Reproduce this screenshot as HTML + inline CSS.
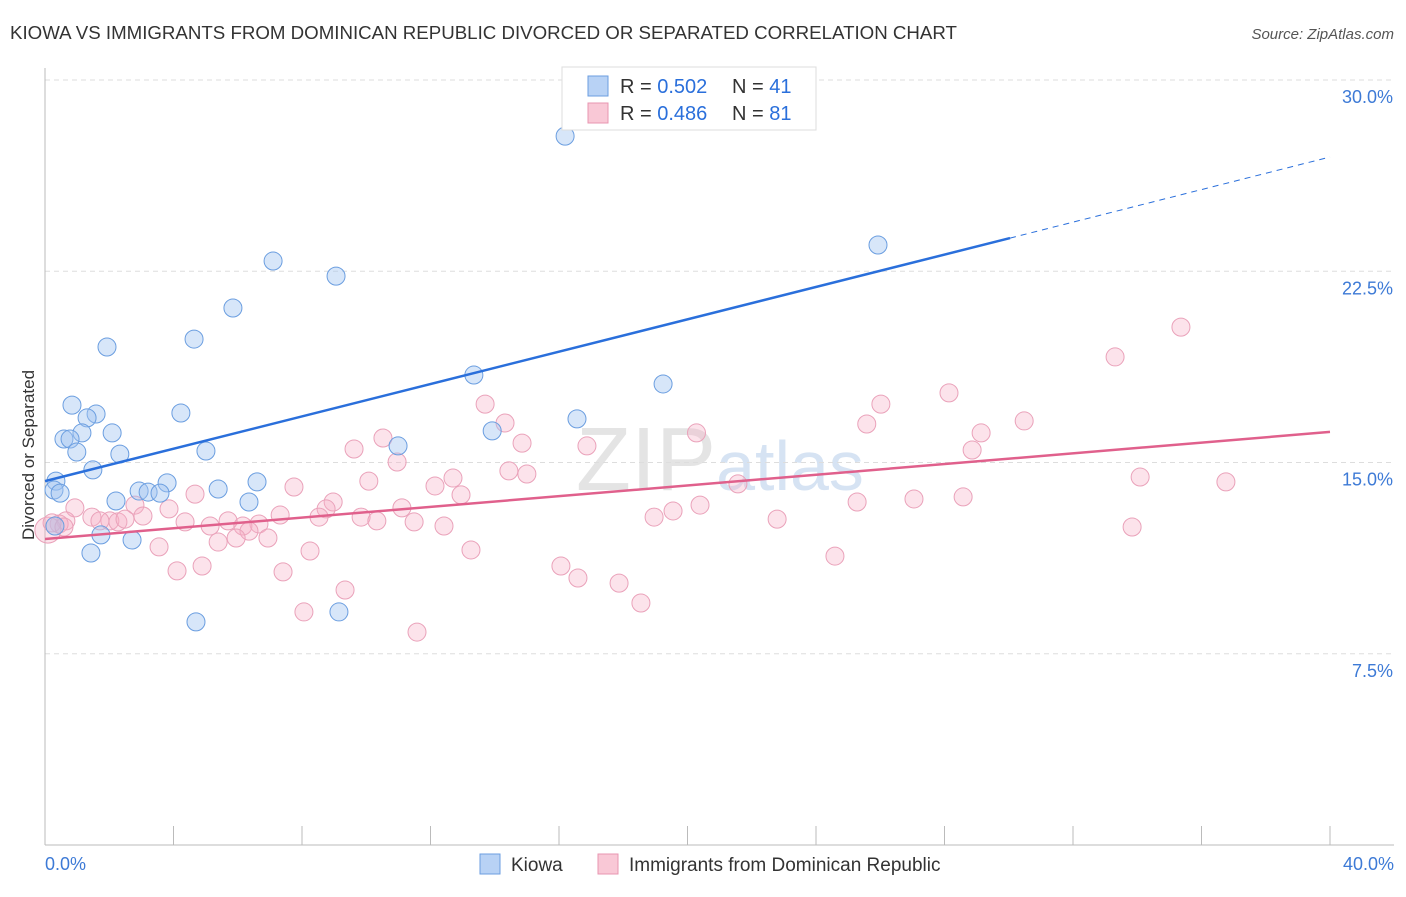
<!DOCTYPE html>
<html><head><meta charset="utf-8"><style>
body{margin:0;background:#fff;font-family:"Liberation Sans",sans-serif}
svg text{font-family:"Liberation Sans",sans-serif}
</style></head><body>
<svg id="c" width="1406" height="892" viewBox="0 0 1406 892">
<text x="10" y="39" font-size="18.7" fill="#333">KIOWA VS IMMIGRANTS FROM DOMINICAN REPUBLIC DIVORCED OR SEPARATED CORRELATION CHART</text>
<text x="1394" y="39" font-size="15" fill="#555" font-style="italic" text-anchor="end">Source: ZipAtlas.com</text>
<text x="720" y="490" font-size="90" fill="#e4e4e4" text-anchor="middle" font-family="Liberation Serif">ZIP<tspan fill="#d6e3f3" font-family="Liberation Sans" font-size="70">atlas</tspan></text>
<g id="grid"></g><g id="axes"></g><g id="pts"></g><g id="lines"></g>
<text transform="translate(34,455) rotate(-90)" font-size="17" fill="#333" text-anchor="middle">Divorced or Separated</text>
<g>
<rect x="562" y="67" width="254" height="63" fill="#fff" stroke="#ddd"/>
<rect x="588" y="76" width="20" height="20" fill="#b8d2f5" stroke="#6b9ee0"/>
<rect x="588" y="103" width="20" height="20" fill="#f9c8d6" stroke="#e896b0"/>
<text x="620" y="93" font-size="20" fill="#333">R = <tspan fill="#2a6fdb">0.502</tspan></text>
<text x="732" y="93" font-size="20" fill="#333">N = <tspan fill="#2a6fdb">41</tspan></text>
<text x="620" y="120" font-size="20" fill="#333">R = <tspan fill="#2a6fdb">0.486</tspan></text>
<text x="732" y="120" font-size="20" fill="#333">N = <tspan fill="#2a6fdb">81</tspan></text>
</g>
<g>
<rect x="480" y="854" width="20" height="20" fill="#b8d2f5" stroke="#6b9ee0"/>
<text x="511" y="871" font-size="19" fill="#333">Kiowa</text>
<rect x="598" y="854" width="20" height="20" fill="#f9c8d6" stroke="#e896b0"/>
<text x="629" y="871" font-size="19" fill="#333">Immigrants from Dominican Republic</text>
</g>
</svg>
<script>
const yTicks=[7.5,15,22.5,30];
const yTickLabels=["7.5%","15.0%","22.5%","30.0%"];
const xTicks=[0,4,8,12,16,20,24,28,32,36,40];
const blueX=[16.19,25.93,7.10,9.06,5.85,1.93,4.64,13.35,19.24,0.84,1.59,1.31,4.23,16.56,2.09,1.15,0.59,0.78,13.92,10.99,5.01,0.99,2.33,1.49,0.34,3.80,6.60,0.28,0.47,2.93,3.21,3.58,5.39,2.21,6.35,0.31,1.74,2.71,1.43,4.70,9.15];
const blueY=[27.8,23.53,22.90,22.31,21.06,19.53,19.84,18.43,18.08,17.25,16.90,16.75,16.94,16.71,16.16,16.16,15.92,15.92,16.24,15.65,15.45,15.41,15.33,14.71,14.27,14.20,14.24,13.92,13.80,13.88,13.84,13.80,13.96,13.49,13.45,12.51,12.16,11.96,11.45,8.75,9.14];
const pinkX=[35.36,33.31,28.14,26.02,13.70,30.48,14.32,25.58,20.28,10.52,29.14,14.85,16.87,9.62,28.86,10.96,14.44,15.00,34.09,12.70,10.08,36.76,21.57,7.75,12.14,4.67,12.95,28.58,27.05,25.28,8.97,20.39,19.55,8.75,11.11,3.86,2.80,0.93,7.32,18.96,9.84,8.53,3.05,22.79,1.46,0.65,2.02,2.27,5.70,10.33,11.49,4.36,6.66,6.16,5.14,12.42,33.84,0.44,6.35,5.95,5.39,6.94,3.55,13.26,8.25,24.59,16.06,4.89,4.11,7.41,16.59,17.87,9.34,18.55,8.06,11.58,0.09,0.22,0.59,2.49,1.71];
const pinkY=[20.31,19.14,17.73,17.29,17.29,16.63,16.55,16.51,16.16,15.96,16.16,15.76,15.65,15.53,15.49,15.02,14.67,14.55,14.43,14.39,14.27,14.24,14.16,14.04,14.08,13.76,13.73,13.65,13.57,13.45,13.45,13.33,13.10,13.18,13.22,13.18,13.33,13.22,12.94,12.86,12.86,12.86,12.90,12.78,12.86,12.71,12.71,12.67,12.71,12.71,12.67,12.67,12.59,12.51,12.51,12.51,12.47,12.59,12.31,12.04,11.88,12.04,11.69,11.57,11.53,11.33,10.94,10.94,10.75,10.71,10.47,10.27,10.00,9.49,9.14,8.35,12.35,12.63,12.47,12.78,12.71];
const blueLine=[[0,14.27],[30.04,23.8],[40,26.98]];
const pinkLine=[[0,12.0],[40,16.2]];
const NS="http://www.w3.org/2000/svg";
const X=v=>45+v/40*1285, Y=v=>845-v/30*765;
function mk(t,a,p){const e=document.createElementNS(NS,t);for(const k in a)e.setAttribute(k,a[k]);p.appendChild(e);return e;}
const grid=document.getElementById('grid'),axes=document.getElementById('axes'),pts=document.getElementById('pts'),lines=document.getElementById('lines');
yTicks.forEach((t,i)=>{
 const l=mk('line',{x1:45,x2:1394,y1:Y(t),y2:Y(t),stroke:'#ddd','stroke-dasharray':'5,4'},grid);
 
 
 const tx=mk('text',{x:1393,y:Y(t)+23,'font-size':18,fill:'#3d7ad6','text-anchor':'end'},grid);
 tx.textContent=yTickLabels[i];
 
 
});
const ax=mk('line',{x1:45,x2:1394,y1:845,y2:845,stroke:'#bbb'},axes);


const ay=mk('line',{x1:45,x2:45,y1:68,y2:845,stroke:'#bbb'},axes);


xTicks.forEach(t=>{const l=mk('line',{x1:X(t),x2:X(t),y1:826,y2:845,stroke:'#bbb'},axes);
 
 });
const x0=mk('text',{x:45,y:870,'font-size':18,fill:'#3d7ad6'},axes);x0.textContent='0.0%';


const x1=mk('text',{x:1394,y:870,'font-size':18,fill:'#3d7ad6','text-anchor':'end'},axes);x1.textContent='40.0%';


pinkX.forEach((v,i)=>{const r=i==76?13:9;const c=mk('circle',{cx:X(v),cy:Y(pinkY[i]),r:r,fill:'rgba(245,175,198,0.35)',stroke:'#eaa2ba','stroke-width':1},pts);
 
 });
blueX.forEach((v,i)=>{const c=mk('circle',{cx:X(v),cy:Y(blueY[i]),r:9,fill:'rgba(160,195,240,0.42)',stroke:'#6b9ee0','stroke-width':1},pts);
 
 });
const b1=mk('line',{x1:X(blueLine[0][0]),y1:Y(blueLine[0][1]),x2:X(blueLine[1][0]),y2:Y(blueLine[1][1]),stroke:'#2a6fdb','stroke-width':2.5},lines);


const b2=mk('line',{x1:X(blueLine[1][0]),y1:Y(blueLine[1][1]),x2:X(blueLine[2][0]),y2:Y(blueLine[2][1]),stroke:'#2a6fdb','stroke-width':1,'stroke-dasharray':'6,5'},lines);


const p1=mk('line',{x1:X(pinkLine[0][0]),y1:Y(pinkLine[0][1]),x2:X(pinkLine[1][0]),y2:Y(pinkLine[1][1]),stroke:'#e0608c','stroke-width':2.5},lines);


</script>
</body></html>
